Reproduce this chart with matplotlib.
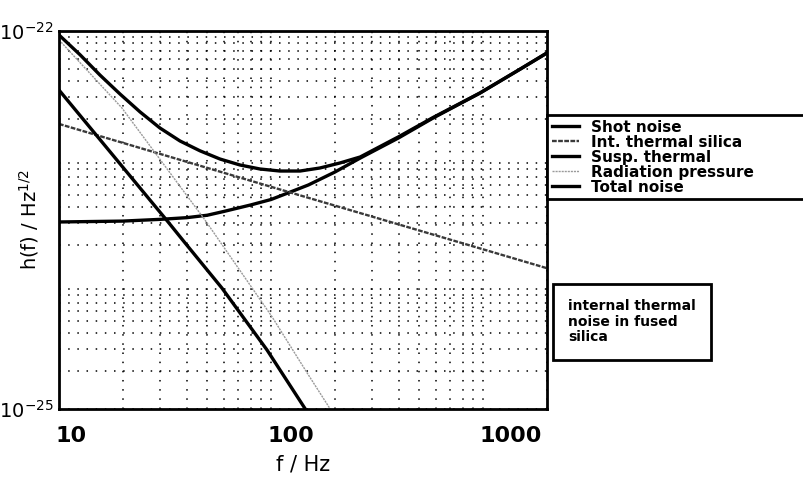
import matplotlib
matplotlib.use("Agg")
import matplotlib.pyplot as plt
from matplotlib.ticker import NullFormatter
from matplotlib.transforms import ScaledTranslation

# values (f in Hz, h in 1/sqrt(Hz))
shot_f = [10, 20, 30, 40, 50, 60, 80, 100, 120, 150, 200, 263, 400, 581, 968, 1500, 2000]
shot_h = [3.05e-24, 3.1e-24, 3.2e-24, 3.3e-24, 3.45e-24, 3.7e-24, 4.16e-24, 4.6e-24, 5.18e-24,
          6.0e-24, 7.6e-24, 9.8e-24, 1.42e-23, 2.04e-23, 3.22e-23, 5.0e-23, 6.7e-23]

int_f = [10, 100, 1000, 2000]
int_h = [1.83e-23, 5.8e-24, 1.85e-24, 1.31e-24]

susp_f = [10, 32.7, 39.3, 58.7, 95.7, 145, 160]
susp_h = [3.4e-23, 3.05e-24, 2.08e-24, 9.1e-25, 2.94e-25, 1.0e-25, 7.6e-26]

rad_f = [10, 19.8, 28.4, 48.8, 101, 148, 190, 210]
rad_h = [8.5e-23, 2.45e-23, 1.08e-23, 3.16e-24, 5.4e-25, 1.93e-25, 1.0e-25, 7.8e-26]

tot_f = [10, 12.6, 15.6, 19.4, 24.1, 29.9, 37.2, 46.2, 57.4, 71.4, 88.7, 110, 137, 170,
         211, 263, 400, 581, 968, 1500, 2000]
tot_h = [9.3e-23, 6.45e-23, 4.47e-23, 3.16e-23, 2.28e-23, 1.70e-23, 1.34e-23, 1.12e-23,
         9.64e-24, 8.64e-24, 8.03e-24, 7.74e-24, 7.74e-24, 8.18e-24, 8.96e-24, 1.0e-23,
         1.45e-23, 2.06e-23, 3.23e-23, 5.0e-23, 6.7e-23]

labels = ["Shot noise", "Int. thermal silica", "Susp. thermal", "Radiation pressure", "Total noise"]
xticks = [10, 100, 1000]
xticklabels = ["10", "100", "1000"]
yticks = [1e-25, 1e-22]
yticklabels = [r"$10^{-25}$", r"$10^{-22}$"]

fig = plt.figure(figsize=(8.04, 4.78), dpi=100)
ax = fig.add_axes([59/804, 1-409/478, 488/804, 378/478])

ax.loglog(shot_f, shot_h, color="black", lw=2.4, label=labels[0])
ax.loglog(int_f, int_h, color="#3a3a3a", lw=1.7, ls=(0, (2, 0.6)), label=labels[1])
ax.loglog(susp_f, susp_h, color="black", lw=2.4, label=labels[2])
ax.loglog(rad_f, rad_h, color="#9a9a9a", lw=1.0, ls=(0, (1.5, 0.7)), label=labels[3])
ax.loglog(tot_f, tot_h, color="black", lw=2.4, label=labels[4])

ax.set_xlim(10, 2000)
ax.set_ylim(1e-25, 1e-22)
ax.grid(True, which="both", color="black", ls=(0, (1, 5)), lw=1.1)
ax.tick_params(which="both", length=0)
ax.yaxis.set_minor_formatter(NullFormatter())
ax.xaxis.set_minor_formatter(NullFormatter())
for s in ax.spines.values():
    s.set_linewidth(2)

ax.set_xticks(xticks, labels=xticklabels, fontsize=16, fontweight="bold")
ax.set_yticks(yticks, labels=yticklabels, fontsize=14)
ax.tick_params(axis="x", pad=12)
ax.tick_params(axis="y", pad=4)
for lab in ax.get_xticklabels():
    lab.set_ha("left")
    lab.set_transform(lab.get_transform() + ScaledTranslation(-4/100, 0, fig.dpi_scale_trans))

ax.set_xlabel("f / Hz", fontsize=15, labelpad=6)
ax.set_ylabel("h(f) / Hz$^{1/2}$", fontsize=14)
ax.yaxis.set_label_coords(-0.036, 0.5)

leg = fig.legend(loc="upper left", bbox_to_anchor=(547/804, 1-115/478, 0.4, 0.0),
                 mode="expand", prop={"weight": "bold", "size": 11},
                 handlelength=1.8, handletextpad=0.8, labelspacing=0.0,
                 borderpad=0.3, borderaxespad=0, fancybox=False, framealpha=1)
leg.get_frame().set_edgecolor("black")
leg.get_frame().set_linewidth(2)

fig.text(568/804, 1-299/478, "internal thermal\nnoise in fused\nsilica",
         fontsize=10, fontweight="bold", va="top", ha="left", linespacing=1.15,
         bbox=dict(boxstyle="square,pad=1.1", fc="white", ec="black", lw=2))

fig.savefig("out.png", dpi=100)
